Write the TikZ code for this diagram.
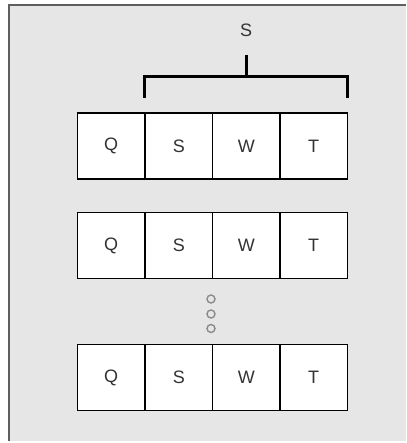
\documentclass[tikz,border=0pt]{standalone}
\usepackage{fontspec}
\setmainfont{Liberation Sans}
\definecolor{panel}{HTML}{E6E6E6}
\definecolor{frameline}{HTML}{5E5E5E}
\definecolor{ink}{HTML}{333333}
\definecolor{dotgray}{HTML}{8A8A8A}
\tikzset{
  cell/.style={draw=black, line width=1.5pt, fill=white, minimum width=67.5pt,
    minimum height=66pt, inner sep=0pt, text=ink, font=\fontsize{18}{20}\selectfont},
  bracket/.style={draw=black, line width=3pt},
  dot/.style={circle, draw=dotgray, line width=1.4pt, minimum size=8pt, inner sep=0pt}
}
\begin{document}
\begin{tikzpicture}[x=1pt,y=-1pt]
\useasboundingbox (0,0) rectangle (406,443);
% panel background with darker top/left edges
\fill[white] (0,0) rectangle (406,443);
\fill[panel] (9,5) rectangle (406,441);
\draw[frameline, line width=2pt] (9,441) -- (9,5) -- (406,5);
% label and bracket
\node[text=ink, font=\fontsize{18}{20}\selectfont] (lbl) at (246,30) {S};
\coordinate (tickTop) at (246,55);
\coordinate (tickBot) at (246,77);
\coordinate (bl) at (144,98);
\coordinate (bltop) at (144,77);
\coordinate (brtop) at (347,77);
\coordinate (br) at (347,98);
\draw[bracket] (tickTop) -- (tickBot);
\draw[bracket, line join=miter] (bl) -- (bltop) -- (brtop) -- (br);
% rows of cells
\foreach \r/\y in {1/146, 2/245.5, 3/377.5}{
  \node[cell] (q\r) at (111,\y) {Q};
  \node[cell] (s\r) at (178.75,\y) {S};
  \node[cell] (w\r) at (246.25,\y) {W};
  \node[cell] (t\r) at (313.5,\y) {T};
}
% vertical ellipsis
\node[dot] (d1) at (211,299) {};
\node[dot] (d2) at (211,314) {};
\node[dot] (d3) at (211,328.5) {};
\end{tikzpicture}
\end{document}
